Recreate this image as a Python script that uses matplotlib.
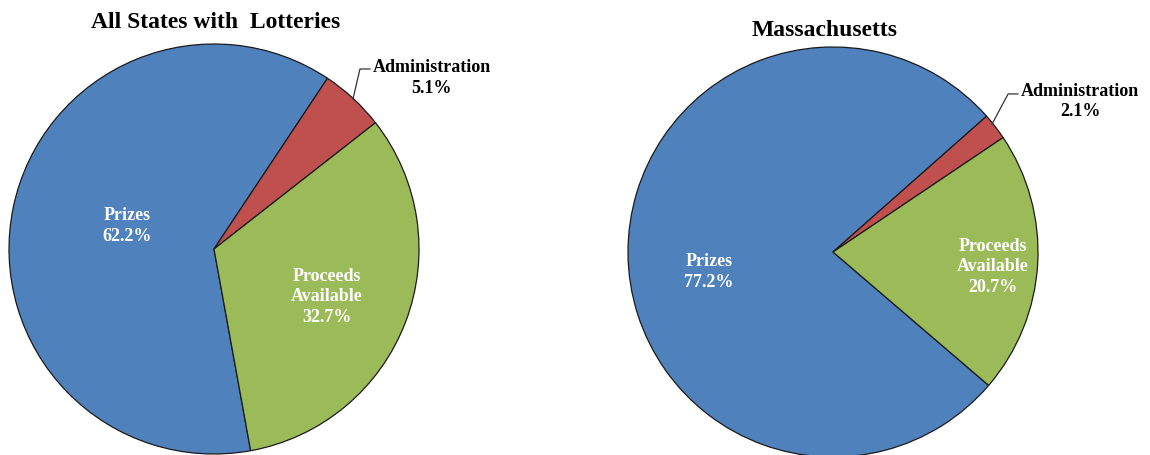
import matplotlib
matplotlib.use('Agg')
import matplotlib.pyplot as plt

# Lottery revenue split: all lottery states vs Massachusetts
categories = ['Prizes', 'Administration', 'Proceeds\nAvailable']
all_states = [62.2, 5.1, 32.7]
massachusetts = [77.2, 2.1, 20.7]
colors = ['#4F81BD', '#C0504D', '#9BBB59']

plt.rcParams['font.family'] = 'Liberation Serif'
plt.rcParams['font.weight'] = 'bold'

W, H = 1150, 456
fig = plt.figure(figsize=(W / 100, H / 100), dpi=100)


def draw_pie(cx, cy, r, values, start, title, title_xy, label_pos, admin_text, leader):
    ax = fig.add_axes([(cx - r) / W, (H - cy - r) / H, 2 * r / W, 2 * r / H])
    ax.pie(values, colors=colors, startangle=start, counterclock=False,
           wedgeprops=dict(edgecolor='#1a1a1a', linewidth=0.9))
    ax.set_xlim(-1, 1)
    ax.set_ylim(-1, 1)
    ax.set_aspect('equal')
    ax.axis('off')
    # white labels inside the big slices
    for i in (0, 2):
        x, y = label_pos[i]
        ax.text(x, y, f'{categories[i]}\n{values[i]}%', color='white', fontsize=13,
                ha='center', va='center', linespacing=1.3)
    # admin slice is too thin, label it outside with a leader line
    xs, ys = zip(*leader)
    ax.plot(xs, ys, color='#333333', linewidth=0.9, clip_on=False)
    ax.text(admin_text[0], admin_text[1], f'{categories[1]}\n{values[1]}%', color='black',
            fontsize=13, ha='center', va='center', linespacing=1.25, clip_on=False)
    fig.text(title_xy[0] / W, 1 - title_xy[1] / H, title, fontsize=17,
             ha='center', va='center')


draw_pie(214, 250, 205, all_states, 280.3, 'All States with  Lotteries', (216, 22),
         {0: (-0.424, 0.115), 2: (0.551, -0.229)}, (1.063, 0.839),
         [(0.678, 0.732), (0.712, 0.878), (0.761, 0.878)])
draw_pie(833, 253, 205, massachusetts, -40.6, 'Massachusetts', (825, 30),
         {0: (-0.605, -0.093), 2: (0.780, -0.068)}, (1.205, 0.739),
         [(0.776, 0.624), (0.854, 0.771), (0.902, 0.771)])

fig.savefig('out.png', dpi=100)
